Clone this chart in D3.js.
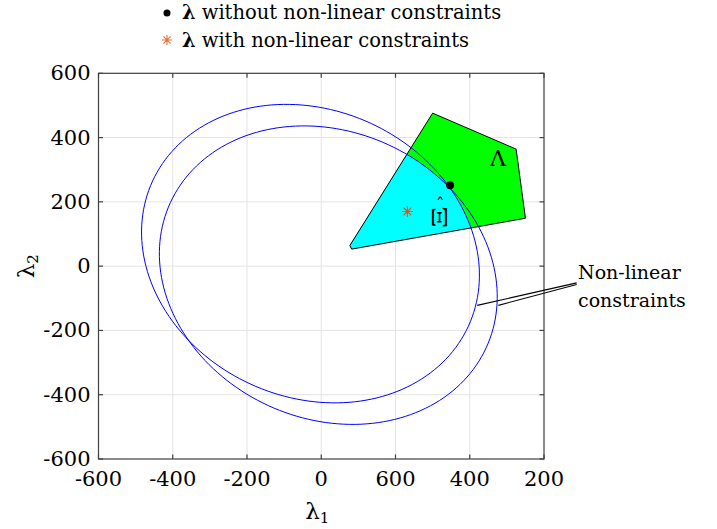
<!DOCTYPE html>
<html>
<head>
<meta charset="utf-8">
<script src="https://cdn.jsdelivr.net/npm/d3@7"></script>
<style>
  html, body { margin: 0; padding: 0; background: #fff; }
  svg { display: block; }
  text, tspan { font-family: "DejaVu Serif", "Liberation Serif", serif; fill: #000; }
</style>
</head>
<body>
<div id="chart"></div>
<script>
// ---------- data ----------
const xTicks = [-600, -400, -200, 0, 200, 400, 600];
const xTickLabels = ["-600", "-400", "-200", "0", "600", "400", "200"];
const yTicks = [-600, -400, -200, 0, 200, 400, 600];
const yTickLabels = ["-600", "-400", "-200", "0", "200", "400", "600"];

// feasible set Lambda (polygon vertices)
const lambdaX = [300, 525, 550, 82, 77];
const lambdaY = [476, 364, 149, 53, 64];

// non-linear constraints: two ellipses
const ellipseCX = [-29, 19];
const ellipseCY = [39, -28];
const ellipseA = [492, 492];
const ellipseB = [425, 425];
const ellipseRot = [-49, -49];

// solutions
const pointWithout = [347, 252];
const pointWith = [232, 170];

// annotation
const annotStart = [[688, -52], [688, -57]];
const annotEnd = [[420, -122], [477, -122]];

// ---------- layout ----------
const W = 717, H = 529;
const m = { left: 98.5, top: 73.3, right: 717 - 544, bottom: 529 - 459 };
const iw = W - m.left - m.right, ih = H - m.top - m.bottom;

const svg = d3.select("#chart").append("svg").attr("width", W).attr("height", H)
  .attr("font-family", "DejaVu Serif");

const x = d3.scaleLinear().domain([-600, 600]).range([m.left, m.left + iw]);
const y = d3.scaleLinear().domain([-600, 600]).range([m.top + ih, m.top]);

// grid
const grid = svg.append("g").attr("stroke", "#e3e3e3").attr("stroke-width", 1);
xTicks.slice(1, -1).forEach(t => grid.append("line")
  .attr("x1", x(t)).attr("x2", x(t)).attr("y1", m.top).attr("y2", m.top + ih));
yTicks.slice(1, -1).forEach(t => grid.append("line")
  .attr("y1", y(t)).attr("y2", y(t)).attr("x1", m.left).attr("x2", m.left + iw));

// ellipse points
const ellipsePts = ellipseCX.map((cx, i) => {
  const phi = ellipseRot[i] * Math.PI / 180;
  return d3.range(0, 360, 2).map(deg => {
    const t = deg * Math.PI / 180;
    const u = ellipseA[i] * Math.cos(t), v = ellipseB[i] * Math.sin(t);
    return [cx + u * Math.cos(phi) - v * Math.sin(phi), ellipseCY[i] + u * Math.sin(phi) + v * Math.cos(phi)];
  });
});
const closedLine = d3.line().x(d => x(d[0])).y(d => y(d[1])).curve(d3.curveLinearClosed);

const lambdaPts = lambdaX.map((v, i) => [v, lambdaY[i]]);

const defs = svg.append("defs");
ellipsePts.forEach((pts, i) => {
  defs.append("clipPath").attr("id", "clipE" + i)
    .append("path").attr("d", closedLine(pts));
});

// Lambda polygon (green)
svg.append("path").attr("d", closedLine(lambdaPts)).attr("fill", "#00ff00");
// Xi-hat region (cyan) = Lambda inside both ellipses
svg.append("g").attr("clip-path", "url(#clipE0)")
  .append("g").attr("clip-path", "url(#clipE1)")
  .append("path").attr("d", closedLine(lambdaPts)).attr("fill", "#00ffff");
// outline
svg.append("path").attr("d", closedLine(lambdaPts))
  .attr("fill", "none").attr("stroke", "#000").attr("stroke-width", 1).attr("stroke-linejoin", "round");

// ellipses
ellipsePts.forEach(pts => svg.append("path").attr("d", closedLine(pts))
  .attr("fill", "none").attr("stroke", "#0000ff").attr("stroke-width", 1));

// labels inside
svg.append("text").attr("x", x(476)).attr("y", y(336)).attr("text-anchor", "middle")
  .attr("dominant-baseline", "central").attr("font-size", 22).text("Λ");
const xiG = svg.append("g").attr("transform", `translate(${x(318)},${y(152)})`);
xiG.append("text").attr("transform", "rotate(-90) scale(1.3,0.85)").attr("text-anchor", "middle")
  .attr("dominant-baseline", "central").attr("font-size", 27)
  .style("font-family", "Liberation Serif").text("Ξ");
xiG.append("text").attr("x", 1).attr("y", -5).attr("text-anchor", "middle")
  .attr("font-size", 18).text("ˆ");

// markers
function starPath(cx, cy, r) {
  const d = r * Math.SQRT1_2;
  return `M${cx - r},${cy}L${cx + r},${cy}M${cx},${cy - r}L${cx},${cy + r}` +
    `M${cx - d},${cy - d}L${cx + d},${cy + d}M${cx - d},${cy + d}L${cx + d},${cy - d}`;
}
svg.append("circle").attr("cx", x(pointWithout[0])).attr("cy", y(pointWithout[1])).attr("r", 4).attr("fill", "#000");
svg.append("path").attr("d", starPath(x(pointWith[0]), y(pointWith[1]), 5.5))
  .attr("stroke", "#D95319").attr("stroke-width", 1.1).attr("fill", "none");

// axes box and ticks
const ax = svg.append("g").attr("stroke", "#404040").attr("stroke-width", 1.2);
ax.append("rect").attr("x", m.left).attr("y", m.top).attr("width", iw).attr("height", ih).attr("fill", "none");
const tl = 4.5;
xTicks.forEach(t => {
  ax.append("line").attr("x1", x(t)).attr("x2", x(t)).attr("y1", m.top + ih).attr("y2", m.top + ih - tl);
  ax.append("line").attr("x1", x(t)).attr("x2", x(t)).attr("y1", m.top).attr("y2", m.top + tl);
});
yTicks.forEach(t => {
  ax.append("line").attr("y1", y(t)).attr("y2", y(t)).attr("x1", m.left).attr("x2", m.left + tl);
  ax.append("line").attr("y1", y(t)).attr("y2", y(t)).attr("x1", m.left + iw).attr("x2", m.left + iw - tl);
});
xTicks.forEach((t, i) => svg.append("text").attr("x", x(t)).attr("y", m.top + ih + 27)
  .attr("text-anchor", "middle").attr("font-size", 21).text(xTickLabels[i]));
yTicks.forEach((t, i) => svg.append("text").attr("x", m.left - 8).attr("y", y(t))
  .attr("text-anchor", "end").attr("dominant-baseline", "central").attr("font-size", 21).text(yTickLabels[i]));

// axis labels
const xl = svg.append("text").attr("x", m.left + iw / 2 - 4).attr("y", 519).attr("text-anchor", "middle").attr("font-size", 23);
xl.append("tspan").text("λ");
xl.append("tspan").attr("dy", 4).attr("font-size", 15).text("1");
const yl = svg.append("text").attr("transform", `translate(34,${m.top + ih / 2}) rotate(-90)`)
  .attr("text-anchor", "middle").attr("font-size", 23);
yl.append("tspan").text("λ");
yl.append("tspan").attr("dy", 4).attr("font-size", 15).text("2");

// legend
svg.append("circle").attr("cx", 167).attr("cy", 13).attr("r", 3.5).attr("fill", "#000");
const l1 = svg.append("text").attr("x", 182).attr("y", 19).attr("font-size", 19.5);
l1.append("tspan").attr("font-weight", "bold").text("λ");
l1.append("tspan").attr("dx", 6).text("without non-linear constraints");
svg.append("path").attr("d", starPath(167, 40, 5)).attr("stroke", "#E8703A").attr("stroke-width", 1.1).attr("fill", "none");
const l2 = svg.append("text").attr("x", 182).attr("y", 47).attr("font-size", 19.5);
l2.append("tspan").attr("font-weight", "bold").text("λ");
l2.append("tspan").attr("dx", 6).text("with non-linear constraints");

// annotation
annotStart.forEach((s, i) => svg.append("line")
  .attr("x1", x(s[0])).attr("y1", y(s[1])).attr("x2", x(annotEnd[i][0])).attr("y2", y(annotEnd[i][1]))
  .attr("stroke", "#000").attr("stroke-width", 1.1));
svg.append("text").attr("x", 578).attr("y", 279).attr("font-size", 19).text("Non-linear");
svg.append("text").attr("x", 578).attr("y", 307).attr("font-size", 19).text("constraints");
</script>
</body>
</html>
